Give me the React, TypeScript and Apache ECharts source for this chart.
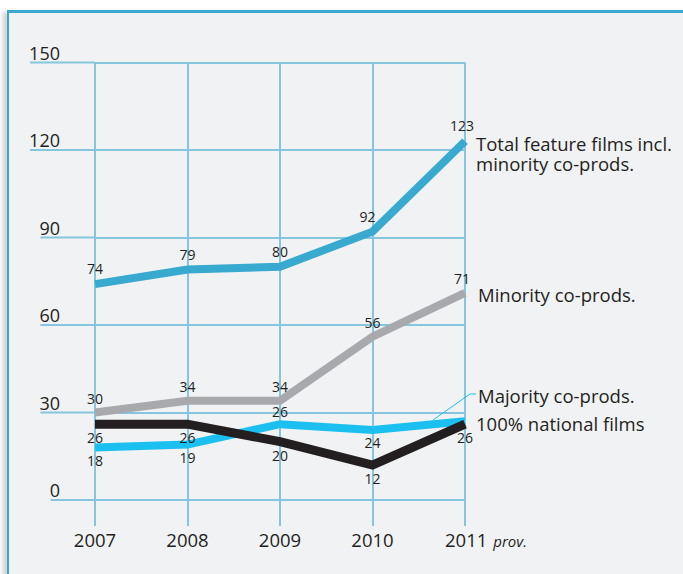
import React, { useEffect, useRef } from "react";
import * as echarts from "echarts";

const years = ["2007", "2008", "2009", "2010", "2011"];
const yTicks = [0, 30, 60, 90, 120, 150];
const total = [74, 79, 80, 92, 123];
const minority = [30, 34, 34, 56, 71];
const majority = [18, 19, 26, 24, 27];
const national = [26, 26, 20, 12, 26];

const totalPos = ["top", "top", "top", "top", "top"];
const minorityPos = ["top", "top", "top", "top", "top"];
const majorityPos = ["bottom", "bottom", "top", "bottom", "none"];
const nationalPos = ["bottom", "bottom", "bottom", "bottom", "bottom"];

const totalShift = [0, 0, 0, -5, -3];
const minorityShift = [0, 0, 0, 0, -3];

const seriesNames = {
  total: "Total feature films incl.\nminority co-prods.",
  minority: "Minority co-prods.",
  majority: "Majority co-prods.",
  national: "100% national films",
};

const FONT = "'Open Sans', 'Liberation Sans', sans-serif";
const TEXT = "#231f20";
const GRID = "#86c5de";
const C_TOTAL = "#38a9cf";
const C_MIN = "#a8a9ac";
const C_MAJ = "#1bc0f0";
const C_NAT = "#231f20";

function items(values: number[], pos: string[], shift?: number[], dTop = 7, dBottom = 5) {
  return values.map((v, i) => ({
    value: v,
    label:
      pos[i] === "none"
        ? { show: false }
        : {
            show: true,
            position: pos[i],
            distance: pos[i] === "top" ? dTop : dBottom,
            offset: [shift ? shift[i] : 0, 0],
          },
  }));
}

export default function App() {
  const ref = useRef<HTMLDivElement>(null);
  useEffect(() => {
    if (!ref.current) return;
    const chart = echarts.init(ref.current, null, { renderer: "svg" });
    const lineBase = (color: string, width: number) => ({
      type: "line",
      symbol: "circle",
      symbolSize: 1,
      showSymbol: true,
      itemStyle: { color: "rgba(0,0,0,0)" },
      lineStyle: { color, width, join: "miter", cap: "butt" },
      label: { color: TEXT, fontFamily: FONT, fontSize: 14 },
      emphasis: { disabled: true },
    });
    const endLbl = (text: string, offset: number[], lh = 20) => ({
      show: true,
      formatter: () => text,
      color: TEXT,
      fontFamily: FONT,
      fontSize: 18.5,
      lineHeight: lh,
      distance: 11,
      offset,
    });
    chart.setOption({
      animation: false,
      grid: { left: 95, right: 218, top: 62.5, bottom: 74 },
      xAxis: {
        type: "category",
        data: years,
        boundaryGap: false,
        axisLine: { show: false },
        axisTick: { show: true, interval: 0, length: 26, lineStyle: { color: GRID, width: 2 } },
        splitLine: { show: true, interval: 0, lineStyle: { color: GRID, width: 2 } },
        axisLabel: {
          interval: 0,
          margin: 30,
          color: TEXT,
          fontFamily: FONT,
          fontSize: 18.5,
          formatter: (v: string, i: number) =>
            i === years.length - 1 ? `{y|${v}}{g|}{p|prov.}` : v,
          rich: {
            y: { fontSize: 18.5, fontFamily: FONT, color: TEXT, padding: [0, 0, 0, 42] },
            g: { width: 6 },
            p: { fontSize: 15, fontStyle: "italic", fontFamily: FONT, color: TEXT, padding: [3, 0, 0, 0] },
          },
        },
      },
      yAxis: {
        type: "value",
        min: 0,
        max: 150,
        interval: 30,
        axisLine: { show: false },
        axisTick: { show: false },
        splitLine: { show: true, lineStyle: { color: GRID, width: 2 } },
        axisLabel: {
          margin: 35,
          color: TEXT,
          fontFamily: FONT,
          fontSize: 18,
          verticalAlign: "bottom",
          padding: [0, 0, 1, 0],
        },
      },
      series: [
        {
          type: "custom",
          silent: true,
          clip: false,
          z: 1,
          data: yTicks.map((v) => [0, v]),
          encode: { x: 0, y: 1 },
          renderItem: (params: any, api: any) => {
            const v = api.value(1);
            const p = api.coord([0, v]);
            const w = String(v).length * 10.3;
            return {
              type: "line",
              shape: { x1: p[0] - 35 - w + 1, y1: p[1], x2: p[0], y2: p[1] },
              style: { stroke: GRID, lineWidth: 2 },
            };
          },
        },
        {
          ...lineBase(C_TOTAL, 8),
          name: "total",
          data: items(total, totalPos, totalShift, 8),
          endLabel: endLbl(seriesNames.total, [0, 12]),
          z: 3,
        },
        {
          ...lineBase(C_MIN, 8),
          name: "minority",
          data: items(minority, minorityPos, minorityShift, 7),
          endLabel: endLbl(seriesNames.minority, [2, 2]),
          z: 3,
        },
        {
          ...lineBase(C_MAJ, 8),
          name: "majority",
          data: items(majority, majorityPos, undefined, 5, 5),
          endLabel: endLbl(seriesNames.majority, [2, -26]),
          z: 4,
        },
        {
          ...lineBase(C_NAT, 9),
          name: "national",
          data: items(national, nationalPos, undefined, 6, 6),
          endLabel: endLbl(seriesNames.national, [0, -1]),
          z: 5,
        },
      ],
      graphic: [
        {
          type: "polyline",
          silent: true,
          z: 10,
          shape: { points: [[433, 420], [470, 394], [476, 394]] },
          style: { stroke: C_MAJ, lineWidth: 1, fill: "none" },
        },
      ],
    });
    return () => chart.dispose();
  }, []);

  return (
    <div style={{ position: "fixed", left: 0, top: 0, width: 683, height: 574, background: "#ffffff", overflow: "hidden" }}>
      <div
        style={{
          position: "absolute",
          left: 7,
          top: 10,
          width: 700,
          height: 600,
          background: "#f1f2f4",
          borderTop: "3px solid #3aa8d0",
          borderLeft: "2px solid #3aa8d0",
          boxShadow: "-4px 2px 5px rgba(0,0,0,0.2)",
        }}
      />
      <div ref={ref} style={{ position: "absolute", left: 0, top: 0, width: 683, height: 574 }} />
    </div>
  );
}
